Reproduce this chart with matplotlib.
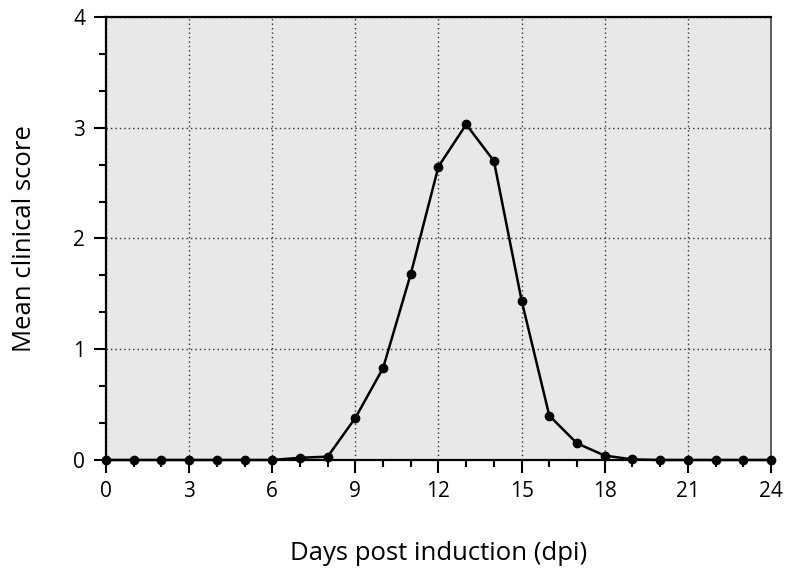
import matplotlib
matplotlib.use("Agg")
import matplotlib.pyplot as plt
from matplotlib.ticker import MultipleLocator

# Mean clinical score per day post induction
days = list(range(0, 25))
score = [0, 0, 0, 0, 0, 0, 0, 0.02, 0.03, 0.38, 0.83, 1.68, 2.65, 3.03,
         2.70, 1.44, 0.40, 0.15, 0.04, 0.005, 0, 0, 0, 0, 0]

x_ticks = [0, 3, 6, 9, 12, 15, 18, 21, 24]
y_ticks = [0, 1, 2, 3, 4]

plt.rcParams["font.family"] = ["Open Sans", "DejaVu Sans"]

fig = plt.figure(figsize=(7.88, 5.69), dpi=100)
ax = fig.add_axes([0.1345, 0.1916, 0.8439, 0.7785])
ax.set_facecolor("#e8e8e8")

ax.plot(days, score, color="black", linewidth=1.8, marker="o",
        markersize=6, clip_on=False, zorder=5)

ax.set_xlim(0, 24)
ax.set_ylim(0, 4)
ax.set_xticks(x_ticks)
ax.set_yticks(y_ticks)
ax.xaxis.set_minor_locator(MultipleLocator(1))
ax.yaxis.set_minor_locator(MultipleLocator(1 / 3))

ax.grid(True, which="major", linestyle=(0, (1, 2.2)), color="#333333",
        linewidth=1.0)
ax.set_axisbelow(True)

ax.tick_params(which="major", direction="out", length=9, width=1.5,
               labelsize=15, pad=6)
ax.tick_params(which="minor", direction="out", length=5, width=1.5)

for side in ["left", "bottom", "top"]:
    ax.spines[side].set_linewidth(1.6)
    ax.spines[side].set_color("black")
ax.spines["right"].set_linewidth(1.2)
ax.spines["right"].set_color("#444444")

ax.set_xlabel("Days post induction (dpi)", fontsize=18.5, va="center")
ax.set_ylabel("Mean clinical score", fontsize=18.5, va="center")
ax.xaxis.set_label_coords(0.5, -0.21)
ax.yaxis.set_label_coords(-0.122, 0.5)

fig.savefig("out.png", dpi=100)
